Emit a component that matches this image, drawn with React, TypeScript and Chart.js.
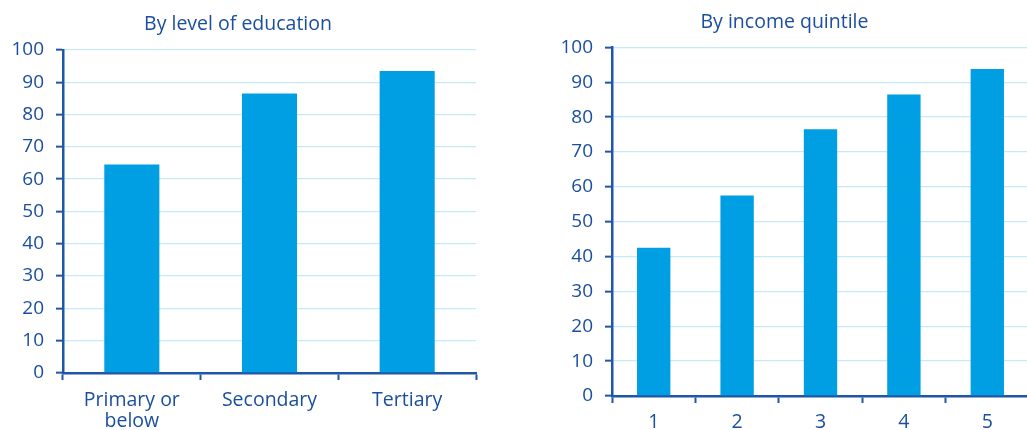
import React, { useEffect, useRef } from "react";
import { Chart, registerables } from "chart.js";

Chart.register(...registerables);

// Share of respondents, by group (percent)
const educationLabels: (string | string[])[] = [["Primary or", "below"], "Secondary", "Tertiary"];
const educationValues = [64.5, 86.5, 93.5];

const quintileLabels = ["1", "2", "3", "4", "5"];
const quintileValues = [42.5, 57.5, 76.5, 86.5, 93.8];

const yMin = 0;
const yMax = 100;
const yStep = 10;

const TEXT = "#1a4e9e";
const AXIS = "#1f56a8";
const GRID = "#c6e9f8";
const BAR = "#009fe3";
const FONT = "'Open Sans', 'Noto Sans', sans-serif";

type PanelProps = {
  title: string;
  labels: (string | string[])[];
  values: number[];
  left: number;
  width: number;
  yAxisWidth: number;
  xAxisHeight: number;
  xLabelPad: number;
  padRight: number;
  titleTop: number;
  titleBottom: number;
};

function Panel(p: PanelProps) {
  const ref = useRef<HTMLCanvasElement | null>(null);

  useEffect(() => {
    if (!ref.current) return;
    const chart = new Chart(ref.current, {
      type: "bar",
      data: {
        labels: p.labels,
        datasets: [
          {
            data: p.values,
            backgroundColor: BAR,
            borderWidth: 0,
            barPercentage: 0.4,
            categoryPercentage: 1,
          },
        ],
      },
      options: {
        responsive: false,
        animation: false,
        layout: { padding: { left: 0, right: p.padRight, top: 0, bottom: 0 } },
        plugins: {
          legend: { display: false },
          tooltip: { enabled: false },
          title: {
            display: true,
            text: p.title,
            color: TEXT,
            font: { family: FONT, size: 19.5, weight: "normal", lineHeight: 1.2 },
            padding: { top: p.titleTop, bottom: p.titleBottom },
          },
        },
        scales: {
          x: {
            grid: {
              display: true,
              drawOnChartArea: false,
              drawTicks: true,
              tickLength: 7,
              tickWidth: 2,
              tickColor: AXIS,
              offset: true,
            },
            border: { display: true, color: AXIS, width: 2.5 },
            ticks: {
              color: TEXT,
              font: { family: FONT, size: 19.5, lineHeight: 1.08 },
              padding: p.xLabelPad,
              maxRotation: 0,
              autoSkip: false,
            },
            afterFit: (scale: any) => {
              scale.height = p.xAxisHeight;
            },
          },
          y: {
            min: yMin,
            max: yMax,
            grid: {
              color: GRID,
              lineWidth: 1.3,
              drawTicks: true,
              tickLength: 7,
              tickWidth: 2,
              tickColor: AXIS,
            },
            border: { display: true, color: AXIS, width: 2.5 },
            ticks: {
              stepSize: yStep,
              color: TEXT,
              font: { family: FONT, size: 19 },
              padding: 12,
            },
            afterFit: (scale: any) => {
              scale.width = p.yAxisWidth;
            },
          },
        },
      },
    });
    return () => chart.destroy();
  }, []);

  return (
    <div style={{ position: "absolute", left: p.left, top: 0, width: p.width, height: 430 }}>
      <canvas ref={ref} width={p.width} height={430} style={{ display: "block" }} />
    </div>
  );
}

export default function App() {
  return (
    <div
      style={{
        position: "fixed",
        left: 0,
        top: 0,
        width: 1027,
        height: 430,
        overflow: "hidden",
        background: "#ffffff",
      }}
    >
      <Panel
        title="By level of education"
        labels={educationLabels}
        values={educationValues}
        left={0}
        width={539}
        yAxisWidth={63}
        xAxisHeight={57}
        xLabelPad={10}
        padRight={63}
        titleTop={12.5}
        titleBottom={14}
      />
      <Panel
        title="By income quintile"
        labels={quintileLabels}
        values={quintileValues}
        left={540}
        width={526}
        yAxisWidth={72}
        xAxisHeight={34}
        xLabelPad={9}
        padRight={37}
        titleTop={10.5}
        titleBottom={13.5}
      />
    </div>
  );
}
